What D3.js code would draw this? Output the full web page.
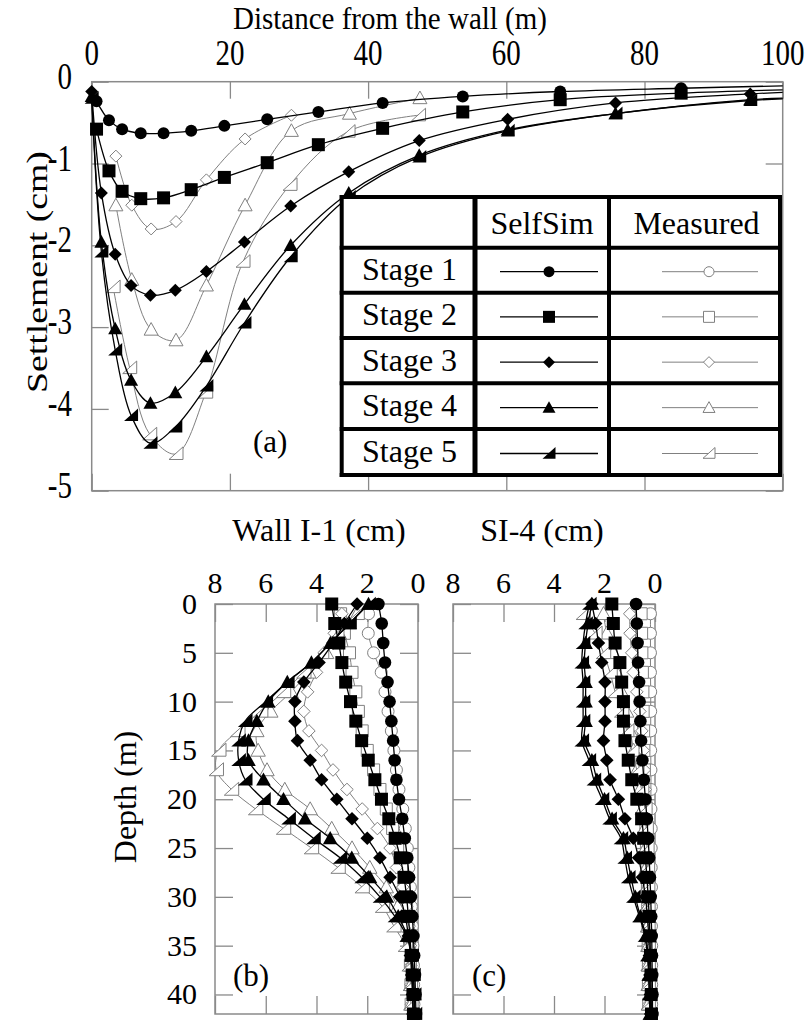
<!DOCTYPE html>
<html><head><meta charset="utf-8">
<script src="https://cdn.jsdelivr.net/npm/d3@7"></script>
<style>
html,body{margin:0;padding:0;background:#fff;}
svg{display:block;font-family:"Liberation Serif","Times New Roman",serif;}
</style></head>
<body><svg id="chart" width="809" height="1020"></svg>
<script>
// ---------------- DATA ----------------
// Panel (a): settlement (cm) vs distance from the wall (m)
const distSimA12 = [0.7, 2.5, 4.4, 7.1, 10.4, 14.4, 19.2, 25.4, 32.8, 42.1, 53.7, 67.8, 85.3];
const distSimA345 = [0, 1.4, 3.4, 5.7, 8.5, 12.1, 16.6, 22.1, 28.8, 37.2, 47.4, 60.2, 75.8, 95.3];
const simA1 = [-0.24, -0.47, -0.58, -0.63, -0.63, -0.60, -0.54, -0.46, -0.37, -0.26, -0.18, -0.12, -0.08];
const simA2 = [-0.58, -1.09, -1.34, -1.43, -1.42, -1.32, -1.17, -0.99, -0.77, -0.57, -0.37, -0.22, -0.14];
const simA3 = [-0.12, -1.36, -2.11, -2.49, -2.61, -2.55, -2.32, -1.96, -1.52, -1.10, -0.72, -0.46, -0.26, -0.15];
const simA4 = [-0.18, -1.96, -3.02, -3.65, -3.93, -3.80, -3.36, -2.72, -2.00, -1.36, -0.90, -0.59, -0.39, -0.22];
const simA5 = [-0.20, -2.08, -3.28, -4.08, -4.42, -4.22, -3.72, -2.95, -2.14, -1.41, -0.92, -0.60, -0.39, -0.23];
const simAAt100 = [-0.05, -0.10, -0.13, -0.20, -0.21];
const distMeasA3 = [3.5, 5.8, 8.6, 12.2, 16.6, 22.2, 28.9];
const measA3 = [-0.91, -1.51, -1.80, -1.71, -1.20, -0.70, -0.41];
const distMeasA4 = [3.5, 5.8, 8.6, 12.2, 16.6, 22.2, 28.9, 37.3, 47.5];
const measA4 = [-1.51, -2.42, -3.03, -3.16, -2.49, -1.51, -0.60, -0.39, -0.20];
const distMeasA5 = [3.1, 5.5, 8.4, 12.2, 16.5, 21.9, 28.7, 37.1, 47.3];
const measA5 = [-2.51, -3.50, -4.31, -4.55, -3.80, -2.20, -1.26, -0.61, -0.41];
const xTicksA = [0, 20, 40, 60, 80, 100];
const yTicksA = [0, -1, -2, -3, -4, -5];

// Panels (b) and (c): lateral deflection (cm) vs depth (m)
const depthSim = [0,2,4,6,8,10,12,14,16,18,20,22,24,26,28,30,32,34,36,38,40,42];
const depthMeas = [1,3,5,7,9,11,13,15,17,19,21,23,25,27,29,31,33,35,37,39,41];
// (b) Wall I-1
const simB1 = [1.56,1.43,1.37,1.30,1.20,1.12,1.05,0.98,0.92,0.85,0.75,0.62,0.52,0.42,0.35,0.28,0.22,0.18,0.15,0.12,0.10,0.08];
const simB2 = [3.40,3.28,3.12,3.00,2.85,2.66,2.45,2.22,1.96,1.70,1.44,1.15,0.90,0.70,0.55,0.45,0.38,0.32,0.27,0.23,0.20,0.18];
const simB3 = [2.40,2.90,3.35,3.90,4.50,4.85,4.85,4.75,4.25,3.80,3.20,2.60,2.00,1.50,1.10,0.72,0.50,0.38,0.30,0.25,0.22,0.20];
const simB4 = [1.95,2.70,3.45,4.20,5.15,5.90,6.35,6.68,6.68,6.09,5.30,4.45,3.46,2.61,1.89,1.23,0.78,0.42,0.25,0.18,0.15,0.12];
const simB5 = [1.95,2.70,3.45,4.20,5.15,6.00,6.81,7.07,7.07,6.81,6.09,5.10,4.12,3.07,2.22,1.50,0.91,0.45,0.25,0.18,0.15,0.12];
const measB1 = [1.95,1.96,1.75,1.45,1.30,1.18,1.05,0.95,0.85,0.75,0.60,0.50,0.42,0.36,0.30,0.26,0.22,0.20,0.18,0.17,0.16];
const measB2 = [3.05,2.90,2.70,2.60,2.45,2.35,2.20,2.00,1.75,1.50,1.25,1.00,0.80,0.65,0.55,0.45,0.38,0.33,0.30,0.28,0.27];
const measB3 = [3.00,3.30,3.70,4.00,4.35,4.50,4.30,3.80,3.35,2.80,2.20,1.60,1.10,0.85,0.60,0.45,0.35,0.30,0.28,0.27,0.26];
const measB4 = [2.40,3.10,3.60,4.30,5.00,5.80,6.35,6.30,5.95,5.25,4.25,3.40,2.60,1.90,1.25,0.80,0.50,0.35,0.30,0.28,0.27];
const measB5 = [2.40,3.20,3.80,4.50,5.30,6.20,7.10,7.85,7.95,7.35,6.40,5.30,4.20,3.15,2.20,1.40,0.95,0.50,0.35,0.30,0.28];
// (c) SI-4
const simC1 = [0.75,0.72,0.69,0.67,0.63,0.61,0.58,0.55,0.50,0.44,0.38,0.32,0.27,0.23,0.20,0.17,0.15,0.13,0.12,0.11,0.10,0.10];
const simC2 = [1.71,1.65,1.58,1.39,1.32,1.25,1.25,1.19,1.06,0.92,0.72,0.53,0.45,0.38,0.32,0.27,0.23,0.20,0.18,0.16,0.15,0.14];
const simC3 = [2.50,2.35,2.24,2.11,1.98,1.98,1.98,2.04,1.91,1.78,1.45,1.19,0.86,0.65,0.50,0.38,0.30,0.25,0.22,0.20,0.18,0.17];
const simC4 = [2.50,2.65,2.75,2.80,2.75,2.75,2.75,2.80,2.50,2.30,2.00,1.70,1.25,1.10,0.95,0.78,0.58,0.36,0.28,0.24,0.22,0.20];
const simC5 = [2.60,2.75,2.85,2.90,2.85,2.85,2.85,2.90,2.62,2.42,2.10,1.80,1.35,1.20,1.06,0.86,0.62,0.40,0.30,0.25,0.23,0.20];
const measC1 = [0.18,0.18,0.18,0.18,0.17,0.17,0.17,0.17,0.16,0.16,0.16,0.15,0.15,0.15,0.14,0.14,0.14,0.13,0.13,0.13,0.13];
const measC2 = [0.55,0.53,0.52,0.50,0.48,0.47,0.45,0.44,0.42,0.40,0.38,0.36,0.34,0.32,0.30,0.29,0.28,0.27,0.26,0.26,0.25];
const measC3 = [1.00,0.99,0.92,0.86,0.72,0.60,0.52,0.46,0.42,0.38,0.36,0.34,0.32,0.30,0.29,0.28,0.27,0.26,0.26,0.25,0.25];
const measC4 = [2.04,1.91,1.65,1.52,1.32,1.12,0.98,0.85,0.72,0.60,0.50,0.42,0.38,0.35,0.32,0.30,0.29,0.28,0.27,0.27,0.26];
const measC5 = [2.84,2.38,2.04,1.78,1.58,1.32,1.12,0.92,0.72,0.53,0.40,0.35,0.32,0.30,0.29,0.28,0.28,0.27,0.27,0.27,0.27];
const xTicksB = [8, 6, 4, 2, 0];
const yTicksB = [0, 5, 10, 15, 20, 25, 30, 35, 40];

const stageNames = ["Stage 1", "Stage 2", "Stage 3", "Stage 4", "Stage 5"];
const markerTypes = ["circle", "square", "diamond", "triangle", "half"];
const legendHeaders = ["SelfSim", "Measured"];

// ---------------- DRAW ----------------
const svg = d3.select("#chart");
const GRAY = "#808080";
const FRAME = "#8a8a8a";

function markerPath(type, r) {
  const p = d3.path();
  if (type === "circle") { p.moveTo(r, 0); p.arc(0, 0, r, 0, 2 * Math.PI); }
  else if (type === "square") { p.rect(-r, -r, 2 * r, 2 * r); }
  else if (type === "diamond") { p.moveTo(0, -r); p.lineTo(r, 0); p.lineTo(0, r); p.lineTo(-r, 0); p.closePath(); }
  else if (type === "triangle") { p.moveTo(0, -r); p.lineTo(r, r * 0.8); p.lineTo(-r, r * 0.8); p.closePath(); }
  else if (type === "half") { p.moveTo(-r, r * 0.8); p.lineTo(r, r * 0.8); p.lineTo(r, -r); p.closePath(); }
  return p.toString();
}
const simR = {circle: 6, square: 6.5, diamond: 6.5, triangle: 7, half: 7};
const measR = {circle: 6, square: 6, diamond: 6, triangle: 7, half: 7};
const simRb = {circle: 6.3, square: 6.5, diamond: 6.8, triangle: 7.3, half: 7.3};
const measRb = {circle: 6, square: 6, diamond: 6.3, triangle: 7.2, half: 7.2};
const legR = {circle: 5.5, square: 6, diamond: 6, triangle: 6.5, half: 6.5};

function drawSeries(g, pts, xs, ys, type, sim, rmap, extraLinePts, curve) {
  const line = d3.line().x(d => xs(d[0])).y(d => ys(d[1])).curve(curve);
  const lp = extraLinePts ? pts.concat(extraLinePts) : pts;
  g.append("path").attr("d", line(lp)).attr("fill", "none")
    .attr("stroke", sim ? "#000" : GRAY).attr("stroke-width", sim ? 1.3 : 1);
  g.selectAll(null).data(pts).join("path")
    .attr("transform", d => `translate(${xs(d[0])},${ys(d[1])})`)
    .attr("d", markerPath(type, rmap[type]))
    .attr("fill", sim ? "#000" : "#fff")
    .attr("stroke", sim ? "none" : GRAY).attr("stroke-width", 1);
}

function frame(g, x0, y0, x1, y1) {
  g.append("rect").attr("x", x0).attr("y", y0).attr("width", x1 - x0).attr("height", y1 - y0)
    .attr("fill", "none").attr("stroke", FRAME).attr("stroke-width", 1.5);
}
function styleAxis(sel) {
  sel.select(".domain").remove();
  sel.selectAll("line").attr("stroke", FRAME).attr("stroke-width", 1.3);
  sel.selectAll("text").remove();
}

// ---- Panel (a) ----
const xA = d3.scaleLinear().domain([0, 100]).range([91.7, 782.7]);
const yA = d3.scaleLinear().domain([-5, 0]).range([490.7, 81.7]);
const gA = svg.append("g");
const TK = 17;
gA.append("g").attr("transform", `translate(0,${yA(0)})`).call(d3.axisTop(xA).tickValues(xTicksA).tickSize(-TK)).call(styleAxis);
gA.append("g").attr("transform", `translate(0,${yA(-5)})`).call(d3.axisBottom(xA).tickValues(xTicksA).tickSize(-TK)).call(styleAxis);
gA.append("g").attr("transform", `translate(${xA(0)},0)`).call(d3.axisLeft(yA).tickValues(yTicksA).tickSize(-TK)).call(styleAxis);
gA.append("g").attr("transform", `translate(${xA(100)},0)`).call(d3.axisRight(yA).tickValues(yTicksA).tickSize(-TK)).call(styleAxis);
frame(gA, xA(0), yA(0), xA(100), yA(-5));

const FA = 29;
xTicksA.forEach(v => gA.append("text").attr("transform", `translate(${xA(v)},65) scale(1,1.2)`)
  .attr("text-anchor", "middle").attr("font-size", FA).text(v));
yTicksA.forEach(v => gA.append("text").attr("transform", `translate(72,${yA(v) + 7}) scale(1,1.3)`)
  .attr("text-anchor", "end").attr("font-size", FA).text(v === 0 ? "0" : "-" + Math.abs(v)));
gA.append("text").attr("transform", `translate(390,29) scale(1,1.1)`).attr("text-anchor", "middle")
  .attr("font-size", FA).text("Distance from the wall (m)");
gA.append("text").attr("transform", `translate(47,272) rotate(-90) scale(1.3,1)`).attr("text-anchor", "middle")
  .attr("font-size", FA).text("Settlement (cm)");

const simA = [simA1, simA2, simA3, simA4, simA5];
const curveA = d3.curveCatmullRom.alpha(0.5);
const gLinesA = gA.append("g");
[[distMeasA3, measA3, 2], [distMeasA4, measA4, 3], [distMeasA5, measA5, 4]].forEach(([xsD, ysD, i]) => {
  drawSeries(gLinesA, xsD.map((d, k) => [d, ysD[k]]), xA, yA, markerTypes[i], false, measR, null, curveA);
});
simA.forEach((arr, i) => {
  const xsD = i < 2 ? distSimA12 : distSimA345;
  drawSeries(gLinesA, xsD.map((d, k) => [d, arr[k]]), xA, yA, markerTypes[i], true, simR, [[100, simAAt100[i]]], curveA);
});

gA.append("text").attr("x", 253).attr("y", 452).attr("font-size", 31).text("(a)");

// Legend table
const tx = [341.7, 475, 609, 780];
const ty = [197, 247.7, 292.7, 338, 383.3, 429, 475];
const gL = svg.append("g");
gL.append("rect").attr("x", tx[0]).attr("y", ty[0]).attr("width", tx[3] - tx[0]).attr("height", ty[6] - ty[0]).attr("fill", "#fff");
ty.forEach(y => gL.append("line").attr("x1", tx[0] - 2).attr("x2", tx[3] + 2).attr("y1", y).attr("y2", y).attr("stroke", "#000").attr("stroke-width", 4));
tx.forEach((x, i) => gL.append("line").attr("x1", x).attr("x2", x).attr("y1", ty[0] - 2).attr("y2", ty[6] + 2).attr("stroke", "#000").attr("stroke-width", i === 1 ? 5 : 4));
const FL = 32;
gL.append("text").attr("x", (tx[1] + tx[2]) / 2).attr("y", 234).attr("text-anchor", "middle").attr("font-size", FL).text(legendHeaders[0]);
gL.append("text").attr("x", (tx[2] + tx[3]) / 2 + 2).attr("y", 234).attr("text-anchor", "middle").attr("font-size", FL).text(legendHeaders[1]);
stageNames.forEach((s, i) => {
  const cy = (ty[i + 1] + ty[i + 2]) / 2;
  gL.append("text").attr("x", 362).attr("y", cy + 10).attr("font-size", FL).text(s);
  gL.append("line").attr("x1", 500).attr("x2", 598).attr("y1", cy + 1.5).attr("y2", cy + 1.5).attr("stroke", "#000").attr("stroke-width", 1.3);
  gL.append("path").attr("transform", `translate(549,${cy + 1.5})`).attr("d", markerPath(markerTypes[i], legR[markerTypes[i]])).attr("fill", "#000");
  gL.append("line").attr("x1", 662).attr("x2", 758).attr("y1", cy + 1.5).attr("y2", cy + 1.5).attr("stroke", GRAY).attr("stroke-width", 1);
  gL.append("path").attr("transform", `translate(709,${cy + 1.5})`).attr("d", markerPath(markerTypes[i], legR[markerTypes[i]] - 0.5)).attr("fill", "#fff").attr("stroke", GRAY);
});

// ---- Panels (b) and (c) ----
const yB = d3.scaleLinear().domain([0, 42]).range([604, 1014]);
const FB = 30;
function depthPanel(x0, x1, sims, meas, title, titleX, label, labelX, showY) {
  const xs = d3.scaleLinear().domain([8, 0]).range([x0, x1]);
  const g = svg.append("g");
  const T = 18;
  g.append("g").attr("transform", `translate(0,${yB(0)})`).call(d3.axisTop(xs).tickValues(xTicksB).tickSize(-T)).call(styleAxis);
  g.append("g").attr("transform", `translate(0,${yB(42)})`).call(d3.axisBottom(xs).tickValues(xTicksB).tickSize(-T)).call(styleAxis);
  g.append("g").attr("transform", `translate(${xs(8)},0)`).call(d3.axisLeft(yB).tickValues(yTicksB).tickSize(-T)).call(styleAxis);
  g.append("g").attr("transform", `translate(${xs(0)},0)`).call(d3.axisRight(yB).tickValues(yTicksB).tickSize(-T)).call(styleAxis);
  frame(g, xs(8), yB(0), xs(0), yB(42));
  xTicksB.forEach(v => g.append("text").attr("x", xs(v)).attr("y", 593).attr("text-anchor", "middle").attr("font-size", FB).text(v));
  if (showY) {
    yTicksB.forEach(v => g.append("text").attr("x", 197).attr("y", yB(v) + 10).attr("text-anchor", "end").attr("font-size", FB).text(v));
    g.append("text").attr("transform", `translate(136,797) rotate(-90)`).attr("text-anchor", "middle").attr("font-size", 32).text("Depth (m)");
  }
  g.append("text").attr("x", titleX).attr("y", 541).attr("text-anchor", "middle").attr("font-size", 32).text(title);
  const curve = d3.curveCatmullRom.alpha(0.5);
  meas.forEach((arr, i) => drawSeries(g, depthMeas.map((d, k) => [arr[k], d]), xs, yB, markerTypes[i], false, measRb, null, curve));
  sims.forEach((arr, i) => drawSeries(g, depthSim.map((d, k) => [arr[k], d]), xs, yB, markerTypes[i], true, simRb, null, curve));
  g.append("text").attr("x", labelX).attr("y", 986).attr("font-size", 31).text(label);
}
depthPanel(215, 418, [simB1, simB2, simB3, simB4, simB5], [measB1, measB2, measB3, measB4, measB5], "Wall I-1 (cm)", 319, "(b)", 233, true);
depthPanel(453, 655, [simC1, simC2, simC3, simC4, simC5], [measC1, measC2, measC3, measC4, measC5], "SI-4 (cm)", 542, "(c)", 472, false);
</script>
</body></html>
